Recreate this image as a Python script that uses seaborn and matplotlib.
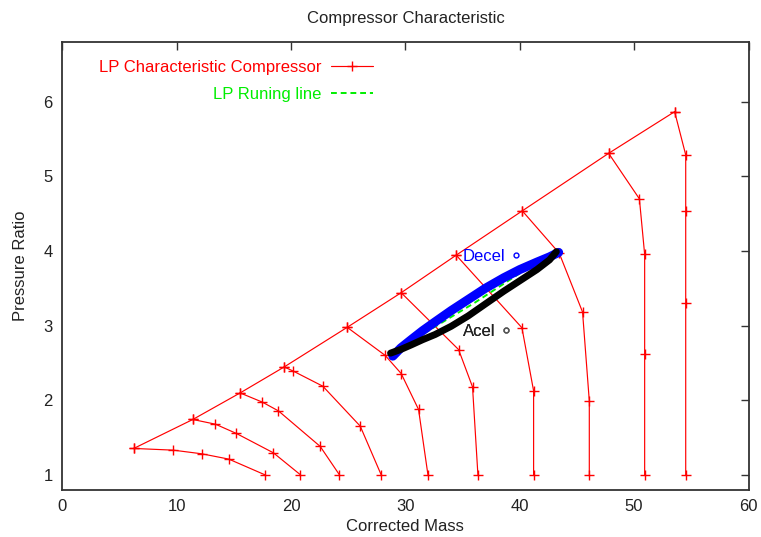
import numpy as np
import pandas as pd
import matplotlib
matplotlib.use("Agg")
import matplotlib.pyplot as plt
from matplotlib.lines import Line2D
import seaborn as sns

# ---- compressor map: constant-speed lines (corrected mass, pressure ratio) ----
speed1_mass = [6.25, 9.71, 12.20, 14.56, 17.71]
speed1_pr = [1.353, 1.330, 1.281, 1.210, 1.00]
speed2_mass = [11.41, 13.39, 15.22, 18.46, 20.82]
speed2_pr = [1.741, 1.678, 1.554, 1.294, 1.00]
speed3_mass = [15.55, 17.50, 18.90, 22.55, 24.23]
speed3_pr = [2.097, 1.973, 1.856, 1.380, 1.00]
speed4_mass = [19.40, 20.16, 22.78, 26.05, 27.88]
speed4_pr = [2.445, 2.392, 2.187, 1.652, 1.00]
speed5_mass = [24.91, 28.23, 29.63, 31.15, 31.97]
speed5_pr = [2.976, 2.600, 2.357, 1.875, 1.00]
speed6_mass = [29.63, 34.65, 35.87, 36.34]
speed6_pr = [3.440, 2.678, 2.177, 1.00]
speed7_mass = [34.44, 40.19, 41.21, 41.21]
speed7_pr = [3.943, 2.970, 2.124, 1.00]
speed8_mass = [40.22, 43.45, 45.49, 46.08, 46.08]
speed8_pr = [4.537, 3.970, 3.181, 1.990, 1.00]
speed9_mass = [47.77, 50.46, 50.92, 50.92, 50.92]
speed9_pr = [5.308, 4.698, 3.953, 2.624, 1.00]
speed10_mass = [53.54, 54.51, 54.51, 54.51, 54.51]
speed10_pr = [5.866, 5.287, 4.541, 3.307, 1.00]

# ---- running lines ----
running_mass = [28.8, 32.0, 36.0, 40.0, 43.3]
running_pr = [2.62, 2.93, 3.30, 3.70, 3.98]

decel_mass = [28.9, 29.6, 30.5, 31.5, 32.6, 34.0, 35.5, 37.0, 38.6, 40.0, 41.5, 42.6, 43.4]
decel_pr = [2.59, 2.70, 2.81, 2.93, 3.05, 3.20, 3.35, 3.50, 3.64, 3.75, 3.85, 3.92, 3.98]
acel_mass = [28.7, 29.6, 30.5, 31.5, 32.6, 34.0, 35.5, 37.0, 38.6, 40.0, 41.5, 42.6, 43.2]
acel_pr = [2.63, 2.68, 2.74, 2.81, 2.88, 2.99, 3.13, 3.29, 3.46, 3.60, 3.75, 3.88, 3.99]

speeds = [
    (speed1_mass, speed1_pr), (speed2_mass, speed2_pr), (speed3_mass, speed3_pr),
    (speed4_mass, speed4_pr), (speed5_mass, speed5_pr), (speed6_mass, speed6_pr),
    (speed7_mass, speed7_pr), (speed8_mass, speed8_pr), (speed9_mass, speed9_pr),
    (speed10_mass, speed10_pr),
]

# long table: each speed line is one unit, surge line joins their first points
rows = []
for i, (m, p) in enumerate(speeds):
    for mm, pp in zip(m, p):
        rows.append({"curve": f"n{i}", "mass": mm, "pr": pp})
for m, p in speeds:
    rows.append({"curve": "surge", "mass": m[0], "pr": p[0]})
map_df = pd.DataFrame(rows)

sns.set_style("white")
plt.rcParams["font.family"] = ["Liberation Sans", "DejaVu Sans"]
FS = 12
MS = 7

fig = plt.figure(figsize=(7.61, 5.37), dpi=100)
ax = fig.add_axes([62.3 / 761, 1 - 489.7 / 537, 686.2 / 761, 447.7 / 537])

sns.lineplot(data=map_df, x="mass", y="pr", units="curve", estimator=None,
             sort=False, color="red", lw=0.85, marker="+", markersize=MS,
             markeredgewidth=1.0, markeredgecolor="red", legend=False,
             ax=ax, zorder=2)

sns.lineplot(x=running_mass, y=running_pr, sort=False, color="#00ee00",
             lw=1.4, ax=ax, zorder=3).lines[-1].set_dashes([3, 2])

sns.lineplot(x=decel_mass, y=decel_pr, sort=False, color="blue", lw=6.5,
             solid_capstyle="round", solid_joinstyle="round", ax=ax, zorder=4)
sns.lineplot(x=acel_mass, y=acel_pr, sort=False, color="black", lw=5.0,
             solid_capstyle="round", solid_joinstyle="round", ax=ax, zorder=5)

ax.set_xlim(0, 60)
ax.set_ylim(0.8, 6.8)
ax.set_xticks(np.arange(0, 61, 10))
ax.set_yticks(np.arange(1, 7, 1))
ax.tick_params(direction="in", length=6, width=1, colors="#333333",
               labelcolor="#222222", labelsize=FS, top=True, right=True,
               pad=7)
for s in ax.spines.values():
    s.set_color("#333333")
    s.set_linewidth(1.3)

ax.set_title("Compressor Characteristic", fontsize=FS, pad=14, color="#222222")
ax.set_xlabel("Corrected Mass", fontsize=FS, labelpad=3, color="#222222")
ax.set_ylabel("Pressure Ratio", fontsize=FS, labelpad=11, color="#222222")


def key(label, handle, anchor, color, hl, pad):
    leg = ax.legend([handle], [label], loc="center right",
                    bbox_to_anchor=anchor, frameon=False, markerfirst=False,
                    handlelength=hl, handletextpad=pad, borderpad=0,
                    borderaxespad=0, fontsize=FS)
    for t in leg.get_texts():
        t.set_color(color)
    ax.add_artist(leg)


key("LP Characteristic Compressor",
    Line2D([], [], color="red", lw=0.85, marker="+", markersize=MS, mew=1.0),
    (0.4528, 0.944), "red", 2.5, 0.6)
key("LP Runing line",
    Line2D([], [], color="#00ee00", lw=1.4, dashes=[3, 2]),
    (0.4528, 0.8838), "#00ee00", 2.5, 0.6)
key("Decel",
    Line2D([], [], color="blue", ls="none", marker="o", mfc="none",
           markersize=3.5, mew=1.0),
    (0.667, 0.522), "blue", 0.5, 0.4)
key("Acel",
    Line2D([], [], color="#555555", ls="none", marker="o", mfc="none",
           markersize=3.5, mew=1.0),
    (0.6525, 0.354), "#222222", 0.5, 0.4)

fig.savefig("out.png", dpi=100)
